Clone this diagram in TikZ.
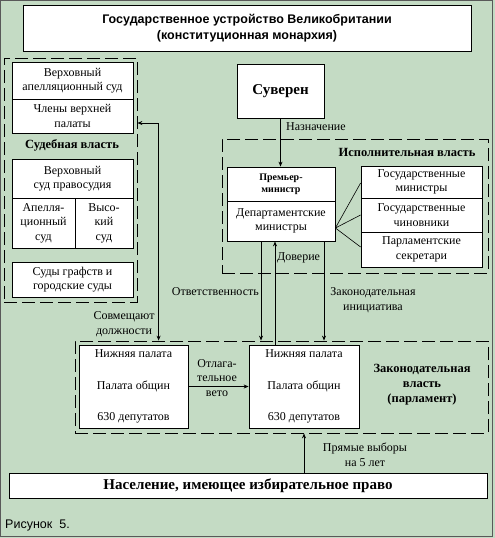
\documentclass[tikz,border=0pt]{standalone}
\usepackage{fontspec}
\setmainfont{Liberation Serif}
\newfontfamily\arialfont{Liberation Sans}
\usetikzlibrary{arrows.meta,calc}
\definecolor{bg}{RGB}{196,219,196}
\tikzset{
  box/.style={draw, fill=white, line width=0.8pt, inner sep=1pt, align=center,
    font=\fontsize{12}{14.5}\selectfont},
  grp/.style={draw, line width=0.8pt, dash pattern=on 13pt off 5pt},
  lbl/.style={inner sep=0pt, align=center, font=\fontsize{12}{14.5}\selectfont},
  blbl/.style={inner sep=0pt, align=center, font=\fontsize{12.5}{15}\selectfont\bfseries},
  arr/.style={line width=0.8pt, -{Stealth[length=5pt,width=4pt]}},
  arrboth/.style={line width=0.8pt, {Stealth[length=5pt,width=4pt]}-{Stealth[length=5pt,width=4pt]}},
  fan/.style={line width=0.6pt}
}
\begin{document}
\begin{tikzpicture}[x=1pt,y=-1pt]
\useasboundingbox (0,0) rectangle (495,538);
\fill[bg] (0,0) rectangle (495,538);
\draw[gray!70!black, line width=0.8pt] (0.5,0.5) rectangle (492,536.5);

% title
\node[box, minimum width=448, minimum height=46, font=\arialfont\fontsize{12.5}{16}\selectfont\bfseries]
  (title) at (247,28) {Государственное устройство Великобритании\\(конституционная монархия)};

% judicial
\node[grp, minimum width=133, minimum height=244] (jud) at (70.5,180) {};
\node[box, minimum width=121, minimum height=37] (apel) at (72.5,80.5) {Верховный\\апелляционный суд};
\node[box, minimum width=121, minimum height=34] (upper) at (72.5,116) {Члены верхней\\палаты};
\node[blbl] (judl) at (72,145) {Судебная власть};
\node[box, minimum width=121, minimum height=39] (hcourt) at (72.5,178.5) {Верховный\\суд правосудия};
\node[box, minimum width=63, minimum height=50] (appc) at (43.5,223) {Апелля-\\ционный\\суд};
\node[box, minimum width=58, minimum height=50] (highc) at (104,223) {Высо-\\кий\\суд};
\node[box, minimum width=121, minimum height=35] (county) at (72.5,279.5) {Суды графств и\\городские суды};

% sovereign
\node[box, minimum width=87, minimum height=54, font=\fontsize{15}{18}\selectfont\bfseries] (sov) at (280.5,91) {Суверен};

% executive
\node[grp, minimum width=266, minimum height=134] (exe) at (355,206) {};
\node[blbl] (exel) at (407,152) {Исполнительная власть};
\node[box, minimum width=108, minimum height=34, font=\fontsize{10}{12}\selectfont\bfseries] (pm) at (281,184) {Премьер-\\министр};
\node[box, minimum width=108, minimum height=40] (dept) at (281,221) {Департаментские\\министры};
\node[box, minimum width=121, minimum height=32] (m1) at (421.5,182) {Государственные\\министры};
\node[box, minimum width=121, minimum height=34] (m2) at (421.5,215) {Государственные\\чиновники};
\node[box, minimum width=121, minimum height=35] (m3) at (421.5,249.5) {Парламентские\\секретари};

% legislative
\node[grp, minimum width=413, minimum height=92] (leg) at (281.5,387) {};
\node[box, minimum width=109, minimum height=83] (hc1) at (133.5,386.5) {Нижняя палата\\[17pt]Палата общин\\[17pt]630 депутатов};
\node[box, minimum width=110, minimum height=83] (hc2) at (304,386.5) {Нижняя палата\\[17pt]Палата общин\\[17pt]630 депутатов};
\node[blbl] (legl) at (422,385) {Законодательная\\власть\\(парламент)};

% population
\node[box, minimum width=478, minimum height=25, font=\fontsize{15}{18}\selectfont\bfseries] (pop) at (248,485.5) {Население, имеющее избирательное право};

\node[anchor=west, inner sep=0pt, font=\arialfont\fontsize{12.5}{14}\selectfont] (fig) at (5,525) {Рисунок\hspace{7pt}5.};

% connectors
\draw[arr] (sov.south) -- (sov.south |- pm.north);
\node[lbl, anchor=west] (naz) at (286,127) {Назначение};

\coordinate (fo) at ($(dept.east)+(0,7)$);
\draw[fan] (fo) -- ($(m1.west)+(0,1)$);
\draw[fan] (fo) -- (m2.west);
\draw[fan] (fo) -- ($(m3.west)+(0,-2.5)$);

\coordinate (otv) at ($(dept.south)+(-20,0)$);
\draw[arr] (otv) -- (otv |- leg.north);
\node[lbl, anchor=east] (otvl) at (259,292) {Ответственность};

\coordinate (dov) at ($(hc2.north)+(-29,0)$);
\draw[arr] (dov) -- (dov |- dept.south);
\node[lbl, anchor=west] (dovl) at (277,258) {Доверие};

\coordinate (ini) at ($(dept.south)+(43,0)$);
\draw[arr] (ini) -- (ini |- leg.north);
\node[lbl] (inil) at (373,300) {Законодательная\\инициатива};

\coordinate (cj) at ($(jud.east |- upper.east)+(0,7)$);
\coordinate (cl) at ($(leg.north west)+(84,0)$);
\draw[arrboth] (cj) -| (cl);
\node[lbl] (sovm) at (124,324) {Совмещают\\должности};

\draw[arr] (hc1.east) -- (hc2.west);
\node[lbl] (veto) at (217,378) {Отлага-\\тельное\\вето};

\draw[arr] (pop.north -| hc2.south) -- (hc2.south |- leg.south);
\node[lbl] (vyb) at (365,455) {Прямые выборы\\на 5 лет};
\end{tikzpicture}
\end{document}
